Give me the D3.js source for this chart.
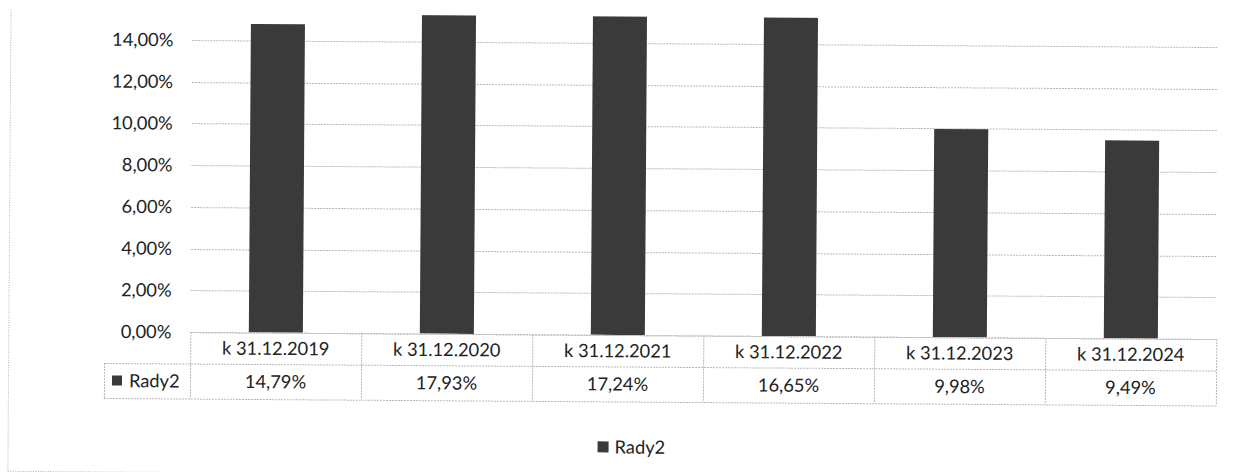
<!DOCTYPE html>
<html>
<head>
<meta charset="utf-8">
<script src="https://cdn.jsdelivr.net/npm/d3@7"></script>
<style>
  html, body { margin: 0; padding: 0; background: #fff; }
  svg { display: block; }
  text { font-family: Lato, "Open Sans", sans-serif; fill: #222; }
</style>
</head>
<body>
<svg id="chart" width="1245" height="472"></svg>
<script>
// ---- data ----
const categories = ["k 31.12.2019", "k 31.12.2020", "k 31.12.2021", "k 31.12.2022", "k 31.12.2023", "k 31.12.2024"];
const seriesName = "Rady2";
const values = [14.79, 17.93, 17.24, 16.65, 9.98, 9.49];
const yTicks = [0, 2, 4, 6, 8, 10, 12, 14];

// ---- layout ----
const W = 1245, H = 472;
const plotLeft = 191, plotRight = 1217, plotBottom = 335, plotTop = 16.5;
const axisMax = 15.27;
const headerH = 31.5, valueH = 35;
const labelColLeft = 105;
const fontSize = 18.3;
const barColor = "#3a3a3a";
const lineColor = "#b8b8b8";

const loc = d3.formatLocale({decimal: ",", thousands: " ", grouping: [3], currency: ["", ""]});
const fmt = v => loc.format(".2f")(v) + "%";

const svg = d3.select("#chart");
const g = svg.append("g").attr("transform", `rotate(0.39, ${W/2}, ${H/2})`);

// outer frame (left and bottom edges visible)
g.append("line").attr("x1", 9.5).attr("x2", 9.5).attr("y1", 14).attr("y2", 476)
  .attr("stroke", "#b0b0b0").attr("stroke-dasharray", "1,1.5");
g.append("line").attr("x1", 9.5).attr("x2", 1240).attr("y1", 475.5).attr("y2", 475.5)
  .attr("stroke", "#b0b0b0").attr("stroke-dasharray", "1,1.5");

const x = d3.scaleBand().domain(categories).range([plotLeft, plotRight]).paddingInner(0.684).paddingOuter(0.342);
const y = d3.scaleLinear().domain([0, axisMax]).range([plotBottom, plotTop]);

// gridlines
g.append("g").selectAll("line").data(yTicks).join("line")
  .attr("x1", plotLeft).attr("x2", plotRight)
  .attr("y1", d => Math.round(y(d)) + 0.5).attr("y2", d => Math.round(y(d)) + 0.5)
  .attr("stroke", lineColor).attr("stroke-width", 1).attr("stroke-dasharray", "2,1");

// y labels
const yAxis = d3.axisLeft(y).tickValues(yTicks).tickFormat(fmt).tickSize(0).tickPadding(0);
const ya = g.append("g").attr("transform", `translate(${plotLeft - 19},0)`).call(yAxis);
ya.select(".domain").remove();
ya.selectAll("text").attr("font-size", fontSize).attr("font-family", "Lato, sans-serif").attr("fill", "#222");

// clip
svg.append("defs").append("clipPath").attr("id", "plotclip")
  .append("rect").attr("x", plotLeft).attr("y", plotTop).attr("width", plotRight - plotLeft).attr("height", plotBottom - plotTop);

// bars
g.append("g").attr("clip-path", "url(#plotclip)").selectAll("rect").data(values).join("rect")
  .attr("x", (d, i) => x(categories[i]))
  .attr("width", x.bandwidth())
  .attr("y", d => y(d))
  .attr("height", d => y(0) - y(d))
  .attr("fill", barColor);

// data table
const step = x.step();
const colX = i => plotLeft + i * step;
const rowTop = plotBottom, rowMid = plotBottom + headerH, rowBot = rowMid + valueH;
const tb = g.append("g").attr("fill", "none").attr("stroke", lineColor).attr("stroke-dasharray", "2,1");
tb.append("line").attr("x1", plotLeft).attr("x2", plotRight).attr("y1", rowTop + 0.5).attr("y2", rowTop + 0.5);
tb.append("line").attr("x1", labelColLeft).attr("x2", plotRight).attr("y1", rowMid + 0.5).attr("y2", rowMid + 0.5);
tb.append("line").attr("x1", labelColLeft).attr("x2", plotRight).attr("y1", rowBot + 0.5).attr("y2", rowBot + 0.5);
d3.range(categories.length + 1).forEach(i => {
  tb.append("line").attr("x1", colX(i) + 0.5).attr("x2", colX(i) + 0.5).attr("y1", rowTop).attr("y2", rowBot);
});
tb.append("line").attr("x1", labelColLeft + 0.5).attr("x2", labelColLeft + 0.5).attr("y1", rowMid).attr("y2", rowBot);

// header texts
g.append("g").selectAll("text").data(categories).join("text")
  .attr("x", (d, i) => colX(i) + step / 2)
  .attr("y", (rowTop + rowMid) / 2).attr("dy", "0.36em")
  .attr("text-anchor", "middle").attr("font-size", fontSize)
  .text(d => d);
// value texts
g.append("g").selectAll("text").data(values).join("text")
  .attr("x", (d, i) => colX(i) + step / 2)
  .attr("y", (rowMid + rowBot) / 2).attr("dy", "0.36em")
  .attr("text-anchor", "middle").attr("font-size", fontSize)
  .text(d => fmt(d));
// row label with legend key
g.append("rect").attr("x", labelColLeft + 8).attr("y", (rowMid + rowBot) / 2 - 5).attr("width", 10).attr("height", 10).attr("fill", barColor);
g.append("text").attr("x", labelColLeft + 25).attr("y", (rowMid + rowBot) / 2).attr("dy", "0.36em")
  .attr("font-size", fontSize).text(seriesName);

// bottom legend
const lg = g.append("g").attr("transform", "translate(599, 447)");
lg.append("rect").attr("x", 0).attr("y", -5.5).attr("width", 11).attr("height", 11).attr("fill", barColor);
lg.append("text").attr("x", 17).attr("y", 0).attr("dy", "0.36em").attr("font-size", fontSize).text(seriesName);
</script>
</body>
</html>
